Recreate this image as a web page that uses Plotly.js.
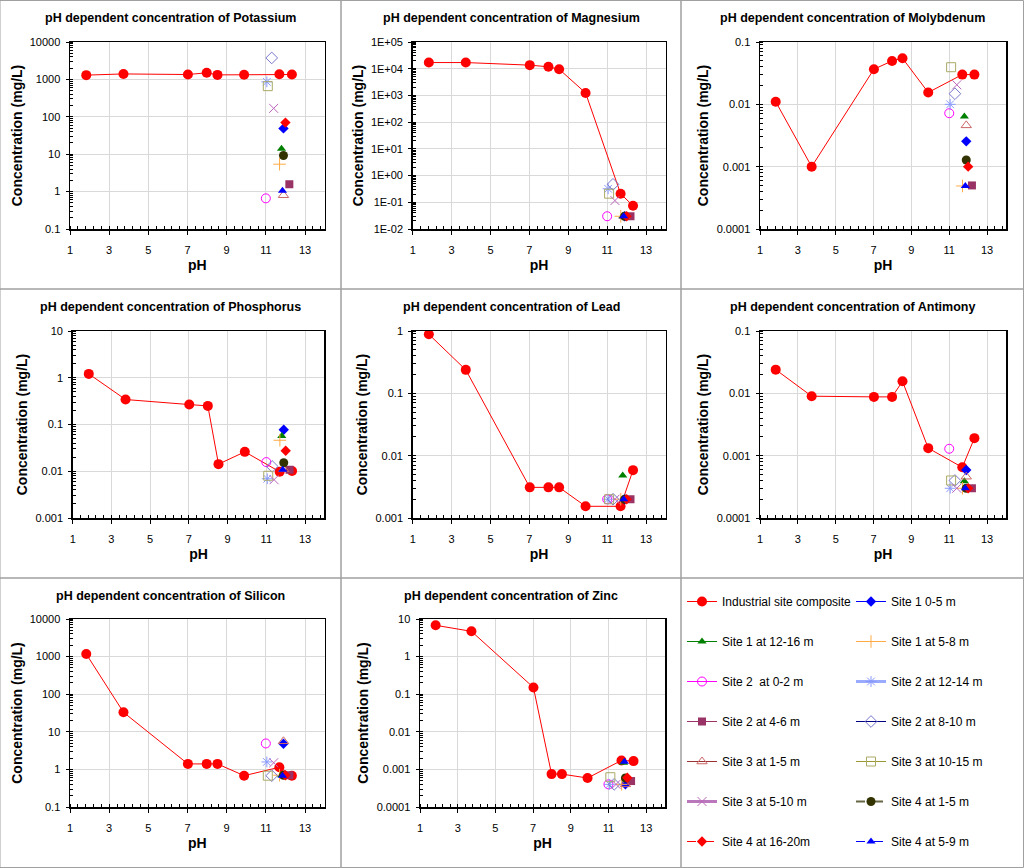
<!DOCTYPE html>
<html>
<head>
<meta charset="utf-8">
<script src="https://cdn.plot.ly/plotly-3.0.1.min.js"></script>
<style>
  html, body { margin: 0; padding: 0; background: #ffffff; }
  #chart { width: 1024px; height: 868px; }
</style>
</head>
<body>
<div id="chart"></div>
<script>
// pH dependent concentration panels - composite leaching curve plus site samples

// pH of the composite leaching steps
const compositePH = [1.83, 3.73, 7.02, 7.98, 8.53, 9.89, 11.69, 12.33];

// site samples (legend order)
const siteNames = [
    'Site 1 0-5 m', 'Site 1 at 12-16 m', 'Site 1 at 5-8 m',
    'Site 2  at 0-2 m', 'Site 2 at 12-14 m', 'Site 2 at 4-6 m', 'Site 2 at 8-10 m',
    'Site 3 at 1-5 m', 'Site 3 at 10-15 m', 'Site 3 at 5-10 m',
    'Site 4 at 1-5 m', 'Site 4 at 16-20m', 'Site 4 at 5-9 m'
];
const sitePH = [11.9, 11.8, 11.7, 11.0, 11.05, 12.2, 11.3, 11.9, 11.1, 11.4, 11.9, 12.0, 11.85];

// composite concentrations (mg/L)
const compPotassium = [1300, 1400, 1350, 1500, 1320, 1330, 1380, 1350];
const compMagnesium = [17000, 17000, 13600, 11800, 9600, 1240, 0.21, 0.074];
const compMolybdenum = [0.011, 0.001, 0.0366, 0.0497, 0.0548, 0.0155, 0.030, 0.030];
const compPhosphorus = [1.21, 0.342, 0.267, 0.25, 0.0142, 0.026, 0.00975, 0.0101];
const compLead = [0.885, 0.238, 0.0031, 0.0031, 0.0031, 0.00154, 0.00154, 0.00586];
const compAntimony = [0.024, 0.009, 0.00877, 0.00877, 0.0156, 0.00132, 0.00065, 0.00191];
const compSilicon = [1170, 33, 1.4, 1.4, 1.4, 0.68, 1.14, 0.68];
const compZinc = [6.8, 4.7, 0.151, 0.00075, 0.00075, 0.00059, 0.00173, 0.00166];

// site concentrations (mg/L), same order as siteNames
const sitePotassium = [49, 14, 5.4, 0.66, 860, 1.58, 3750, 0.8, 660, 168, 9.2, 70, 1.05];
const siteMagnesium = [0.03, 0.03, 0.03, 0.03, 0.32, 0.03, 0.47, 0.03, 0.21, 0.116, 0.03, 0.03, 0.03];
const siteMolybdenum = [0.00255, 0.0064, 0.00049, 0.0072, 0.010, 0.0005, 0.0148, 0.0046, 0.0394, 0.0206, 0.00128, 0.001, 0.00049];
const sitePhosphorus = [0.077, 0.057, 0.046, 0.0157, 0.0069, 0.0108, 0.0127, 0.011, 0.008, 0.0066, 0.0152, 0.0274, 0.0108];
const siteLead = [0.002, 0.0048, 0.002, 0.002, 0.002, 0.002, 0.002, 0.002, 0.002, 0.002, 0.002, 0.002, 0.002];
const siteAntimony = [0.00059, 0.00039, 0.0003, 0.00129, 0.0003, 0.0003, 0.0004, 0.00046, 0.0004, 0.0003, 0.0003, 0.0003, 0.0003];
const siteSilicon = [4.8, 0.7, 0.7, 4.9, 1.58, 0.7, 0.68, 5.6, 0.68, 1.5, 0.7, 0.7, 0.68];
const siteZinc = [0.0004, 0.0015, 0.0004, 0.0004, 0.0004, 0.00049, 0.0004, 0.0004, 0.00062, 0.0004, 0.00059, 0.0006, 0.0016];

// tick labels for the magnesium axis (scientific style)
const magnesiumTickVals = [0.01, 0.1, 1, 10, 100, 1000, 10000, 100000];
const magnesiumTickText = ['1E-02', '1E-01', '1E+00', '1E+01', '1E+02', '1E+03', '1E+04', '1E+05'];

const compositeName = 'Industrial site composite';

const W = 1024;
const H = 868;
const FONT = 'Liberation Sans, Arial, sans-serif';

// marker / line styles, composite first then sites
const seriesStyles = [
    { symbol: 'circle', color: '#ff0000', line: '#ff0000', width: 1, size: 10 },
    { symbol: 'diamond', color: '#0000ff', line: '#0000ff', width: 1, size: 8 },
    { symbol: 'triangle-up', color: '#008000', line: '#008000', width: 1, size: 8 },
    { symbol: 'cross-thin-open', color: '#ffaa44', line: '#ffaa44', width: 1, size: 9 },
    { symbol: 'circle-open', color: '#ff00ff', line: '#ff00ff', width: 1, size: 9 },
    { symbol: 'asterisk-open', color: '#8899ff', line: '#99aaff', width: 3, size: 9 },
    { symbol: 'square', color: '#993366', line: '#993366', width: 1, size: 8 },
    { symbol: 'diamond-open', color: '#7777cc', line: '#000080', width: 1, size: 9 },
    { symbol: 'triangle-up-open', color: '#cc6666', line: '#993333', width: 1, size: 9 },
    { symbol: 'square-open', color: '#aaaa66', line: '#999933', width: 1, size: 9 },
    { symbol: 'x-thin-open', color: '#bb66bb', line: '#bb77bb', width: 3, size: 9 },
    { symbol: 'circle', color: '#333300', line: '#666644', width: 2, size: 9, dash: 'dash' },
    { symbol: 'diamond', color: '#ff0000', line: '#ff0000', width: 1, size: 8, dash: 'dash' },
    { symbol: 'triangle-up', color: '#0000ff', line: '#0000ff', width: 1, size: 8, dash: 'dash' }
];

// panel positions in pixels: plot area [left, right], [top, bottom], cell column/row
const panels = [
    { name: 'Potassium', comp: compPotassium, sites: sitePotassium, yr: [-1, 4], px: [70, 324.6], py: [42, 229], col: 0, row: 0 },
    { name: 'Magnesium', comp: compMagnesium, sites: siteMagnesium, yr: [-2, 5], px: [412.7, 665.5], py: [42, 229], col: 1, row: 0 },
    { name: 'Molybdenum', comp: compMolybdenum, sites: siteMolybdenum, yr: [-4, -1], px: [760, 1006], py: [42, 229], col: 2, row: 0 },
    { name: 'Phosphorus', comp: compPhosphorus, sites: sitePhosphorus, yr: [-3, 1], px: [72.7, 324.4], py: [331, 518], col: 0, row: 1 },
    { name: 'Lead', comp: compLead, sites: siteLead, yr: [-3, 0], px: [412.7, 665.5], py: [331, 518], col: 1, row: 1 },
    { name: 'Antimony', comp: compAntimony, sites: siteAntimony, yr: [-4, -1], px: [760, 1006], py: [331, 518], col: 2, row: 1 },
    { name: 'Silicon', comp: compSilicon, sites: siteSilicon, yr: [-1, 4], px: [70, 324.6], py: [619, 807], col: 0, row: 2 },
    { name: 'Zinc', comp: compZinc, sites: siteZinc, yr: [-4, 1], px: [420, 665], py: [619, 807], col: 1, row: 2 }
];

const cellX = [0, 341, 681, 1023.5];
const cellY = [0.5, 289, 578, 867.5];

function seriesTrace(i, x, y, idx) {
    const st = seriesStyles[i];
    const sfx = idx === 0 ? '' : String(idx + 1);
    const open = st.symbol.indexOf('open') >= 0;
    return {
        x: x,
        y: y,
        xaxis: 'x' + sfx,
        yaxis: 'y' + sfx,
        type: 'scatter',
        mode: 'lines+markers',
        name: i === 0 ? compositeName : siteNames[i - 1],
        legendgroup: 'g' + i,
        legend: i % 2 === 0 ? 'legend' : 'legend2',
        showlegend: idx === 0,
        hoverinfo: 'skip',
        line: { color: st.line, width: st.width, dash: st.dash || 'solid' },
        marker: {
            symbol: st.symbol,
            size: st.size,
            color: st.color,
            line: { color: st.color, width: open ? 1 : 0 }
        }
    };
}

function createPanels() {
    const traces = [];
    const layout = {
        width: W,
        height: H,
        margin: { l: 0, r: 0, t: 0, b: 0 },
        paper_bgcolor: '#ffffff',
        plot_bgcolor: '#ffffff',
        font: { family: FONT, size: 11, color: '#000000' },
        hovermode: false,
        annotations: [],
        shapes: [],
        legend: {
            x: 682 / W, y: 1 - 587 / H, xanchor: 'left', yanchor: 'top',
            font: { family: FONT, size: 12 }, tracegroupgap: 21, itemwidth: 30, bgcolor: 'rgba(0,0,0,0)'
        },
        legend2: {
            x: 851 / W, y: 1 - 587 / H, xanchor: 'left', yanchor: 'top',
            font: { family: FONT, size: 12 }, tracegroupgap: 21, itemwidth: 30, bgcolor: 'rgba(0,0,0,0)'
        }
    };

    panels.forEach((p, idx) => {
        const sfx = idx === 0 ? '' : String(idx + 1);
        traces.push(seriesTrace(0, compositePH, p.comp, idx));
        siteNames.forEach((n, i) => {
            traces.push(seriesTrace(i + 1, [sitePH[i]], [p.sites[i]], idx));
        });

        layout['xaxis' + sfx] = {
            domain: [p.px[0] / W, p.px[1] / W],
            anchor: 'y' + sfx,
            range: [1, 14],
            tick0: 1,
            dtick: 2,
            showgrid: true,
            gridcolor: '#d9d9d9',
            showline: true,
            linecolor: '#000000',
            linewidth: 1.5,
            mirror: true,
            ticks: 'outside',
            ticklen: 4,
            tickcolor: '#000000',
            ticklabelstandoff: 6,
            tickfont: { family: FONT, size: 11 },
            zeroline: false,
            minor: { tick0: 1, dtick: 0.4, ticks: 'inside', ticklen: 3, tickcolor: '#000000', showgrid: false },
            title: { text: 'pH', font: { family: FONT, size: 14, weight: 'bold' }, standoff: 5 }
        };

        const ya = {
            domain: [1 - p.py[1] / H, 1 - p.py[0] / H],
            anchor: 'x' + sfx,
            type: 'log',
            range: p.yr,
            dtick: 1,
            tickformat: '~g',
            showgrid: true,
            gridcolor: '#d9d9d9',
            showline: true,
            linecolor: '#000000',
            linewidth: 1.5,
            mirror: true,
            ticks: 'outside',
            ticklen: 3,
            tickcolor: '#000000',
            ticklabelstandoff: 3,
            tickfont: { family: FONT, size: 11 },
            zeroline: false,
            minor: { dtick: 'D1', ticks: 'inside', ticklen: 3, tickcolor: '#000000', showgrid: false },
            title: { text: 'Concentration (mg/L)', font: { family: FONT, size: 14, weight: 'bold' }, standoff: 4 }
        };
        if (p.name === 'Magnesium') {
            ya.tickmode = 'array';
            ya.tickvals = magnesiumTickVals;
            ya.ticktext = magnesiumTickText;
        }
        layout['yaxis' + sfx] = ya;

        // panel title centred on its cell
        layout.annotations.push({
            xref: 'paper', yref: 'paper',
            x: (cellX[p.col] + cellX[p.col + 1]) / 2 / W,
            y: 1 - (cellY[p.row] + 18) / H,
            xanchor: 'center', yanchor: 'middle',
            showarrow: false,
            text: '<b>pH dependent concentration of ' + p.name + '</b>',
            font: { family: FONT, size: 12.5, color: '#000000' }
        });
    });

    // grey cell borders
    for (let r = 0; r < 3; r++) {
        for (let c = 0; c < 3; c++) {
            layout.shapes.push({
                type: 'rect', xref: 'paper', yref: 'paper', layer: 'below',
                x0: cellX[c] / W, x1: cellX[c + 1] / W,
                y0: 1 - cellY[r + 1] / H, y1: 1 - cellY[r] / H,
                line: { color: '#a0a0a0', width: 1 }
            });
        }
    }

    try {
        Plotly.newPlot('chart', traces, layout, { displayModeBar: false, staticPlot: true });
    } catch (error) {
        console.log('Error creating panels:', error);
    }
}

createPanels();
</script>
</body>
</html>
